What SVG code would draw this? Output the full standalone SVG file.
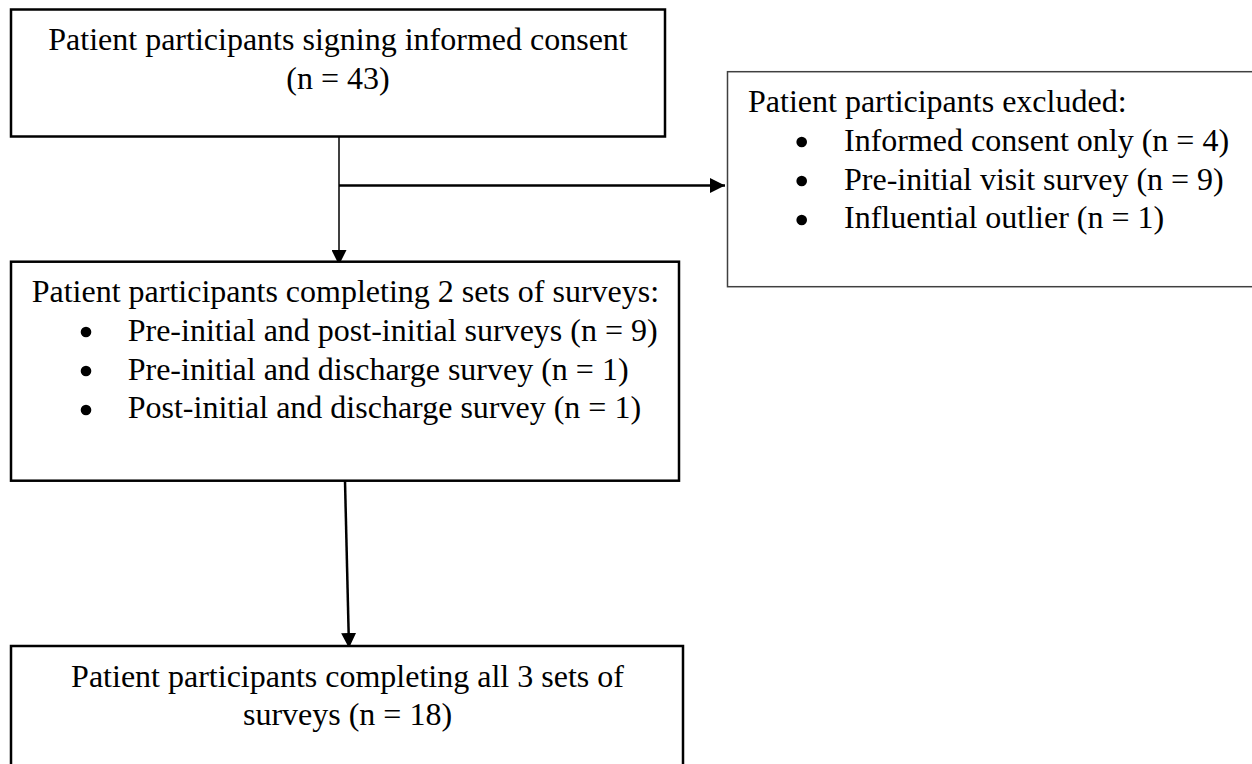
<svg xmlns="http://www.w3.org/2000/svg" width="1252" height="764" viewBox="0 0 1252 764">
  <style>
    .box { fill: #ffffff; stroke: #000000; stroke-width: 2.5; }
    .box-thin { fill: #ffffff; stroke: #404040; stroke-width: 1.5; }
    .txt { font-family: "Liberation Serif", "Times New Roman", serif; font-size: 32px; fill: #000000; }
    .mid { text-anchor: middle; }
    .bullet { fill: #000000; }
    .conn { fill: none; stroke: #000000; }
  </style>
  <defs>
    <marker id="arrow" viewBox="0 0 15 15" refX="15" refY="7.5" markerWidth="15" markerHeight="15" markerUnits="userSpaceOnUse" orient="auto">
      <path d="M0,0 L15,7.5 L0,15 Z" fill="#000000"/>
    </marker>
  </defs>
  <rect width="1252" height="764" fill="#ffffff"/>

  <g id="connectors">
    <line class="conn" x1="339" y1="137" x2="339" y2="265" stroke-width="1.5" stroke="#333333" marker-end="url(#arrow)"/>
    <line class="conn" x1="339" y1="185.5" x2="725" y2="185.5" stroke-width="2.5" marker-end="url(#arrow)"/>
    <line class="conn" x1="345" y1="481" x2="349" y2="648" stroke-width="2.5" marker-end="url(#arrow)"/>
  </g>

  <g id="node-consent">
    <rect class="box" x="11" y="9.5" width="654" height="127"/>
    <text class="txt mid" x="338" y="50">Patient participants signing informed consent</text>
    <text class="txt mid" x="338" y="89">(n = 43)</text>
  </g>

  <g id="node-excluded">
    <rect class="box-thin" x="727.5" y="71.7" width="560" height="215"/>
    <text class="txt" x="748" y="111.7">Patient participants excluded:</text>
    <circle class="bullet" cx="801.7" cy="142" r="5.3"/>
    <text class="txt" x="844" y="150.7">Informed consent only (n = 4)</text>
    <circle class="bullet" cx="801.7" cy="181" r="5.3"/>
    <text class="txt" x="844" y="189.5">Pre-initial visit survey (n = 9)</text>
    <circle class="bullet" cx="801.7" cy="220" r="5.3"/>
    <text class="txt" x="844" y="228.3">Influential outlier (n = 1)</text>
  </g>

  <g id="node-two-sets">
    <rect class="box" x="11" y="261.7" width="668" height="219"/>
    <text class="txt" x="31.7" y="301.7">Patient participants completing 2 sets of surveys:</text>
    <circle class="bullet" cx="86" cy="332" r="5.3"/>
    <text class="txt" x="127.7" y="340.7">Pre-initial and post-initial surveys (n = 9)</text>
    <circle class="bullet" cx="86" cy="371" r="5.3"/>
    <text class="txt" x="127.7" y="379.5">Pre-initial and discharge survey (n = 1)</text>
    <circle class="bullet" cx="86" cy="410" r="5.3"/>
    <text class="txt" x="127.7" y="418.3">Post-initial and discharge survey (n = 1)</text>
  </g>

  <g id="node-all-sets">
    <rect class="box" x="11" y="646" width="672" height="140"/>
    <text class="txt mid" x="347.5" y="686.5">Patient participants completing all 3 sets of</text>
    <text class="txt mid" x="347.5" y="725">surveys (n = 18)</text>
  </g>
</svg>
